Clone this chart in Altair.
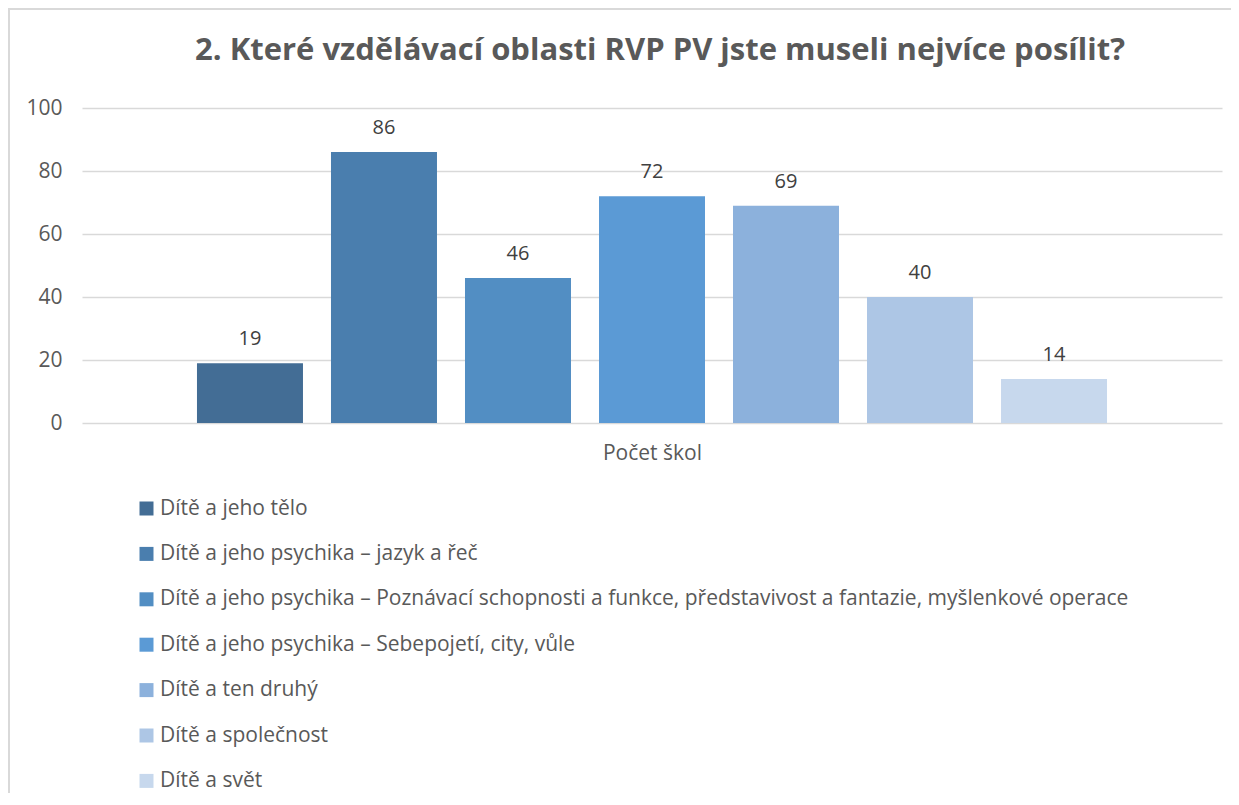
import altair as alt
import pandas as pd

title_text = "2. Které vzdělávací oblasti RVP PV jste museli nejvíce posílit?"
x_title = "Počet škol"
categories = [
    "Dítě a jeho tělo",
    "Dítě a jeho psychika – jazyk a řeč",
    "Dítě a jeho psychika – Poznávací schopnosti a funkce, představivost a fantazie, myšlenkové operace",
    "Dítě a jeho psychika – Sebepojetí, city, vůle",
    "Dítě a ten druhý",
    "Dítě a společnost",
    "Dítě a svět",
]
values = [19, 86, 46, 72, 69, 40, 14]
colors = ["#436D95", "#4A7EAE", "#528EC3", "#5B9AD5", "#8CB1DC", "#ADC6E5", "#C7D8ED"]
y_ticks = [0, 20, 40, 60, 80, 100]

df = pd.DataFrame({"oblast": categories, "pocet": values})

FONT = "Open Sans"
GRID = "#D9D9D9"
TXT = "#595959"

x_enc = alt.X(
    "oblast:N",
    sort=categories,
    scale=alt.Scale(paddingInner=0.209, paddingOuter=0.858),
    axis=alt.Axis(labels=False, ticks=False, domain=False, title=x_title,
                  titleFont=FONT, titleFontSize=21, titleFontWeight="normal",
                  titleColor=TXT, titlePadding=19),
)
y_enc = alt.Y(
    "pocet:Q",
    title=None,
    scale=alt.Scale(domain=[0, 100], nice=False),
    axis=alt.Axis(values=y_ticks, grid=True, gridColor=GRID, gridWidth=1.3,
                  domain=False, ticks=False, labelFont=FONT, labelFontSize=21,
                  labelColor=TXT, labelPadding=20),
)

bars = alt.Chart(df).mark_bar().encode(
    x=x_enc,
    y=y_enc,
    color=alt.Color(
        "oblast:N",
        sort=categories,
        scale=alt.Scale(domain=categories, range=colors),
        legend=alt.Legend(
            title=None, orient="none", legendX=54, legendY=390,
            direction="vertical", symbolType="square", symbolSize=196,
            symbolStrokeWidth=0, labelFont=FONT, labelFontSize=21,
            labelColor=TXT, labelLimit=1200, rowPadding=23.4, labelOffset=3,
        ),
    ),
)

labels = alt.Chart(df).mark_text(
    font=FONT, fontSize=20, color="#404040", baseline="alphabetic", dy=-18
).encode(x=alt.X("oblast:N", sort=categories), y="pocet:Q", text="pocet:Q")

one = alt.Data(values=[{"a": 1}])
border_top = alt.Chart(one).mark_rule(color=GRID, strokeWidth=2).encode(
    x=alt.value(-74), x2=alt.value(1149), y=alt.value(-99)
)
border_left = alt.Chart(one).mark_rule(color=GRID, strokeWidth=2).encode(
    x=alt.value(-73), y=alt.value(-100), y2=alt.value(700)
)

chart = alt.layer(bars, labels, border_top, border_left).properties(
    width=1140,
    height=315,
    autosize=alt.AutoSizeParams(type="none"),
    padding={"left": 74, "top": 100, "right": 9, "bottom": 370},
    title=alt.TitleParams(
        text=title_text, font=FONT, fontSize=31, fontWeight="bold",
        color=TXT, anchor="middle", dx=8, offset=0, baseline="alphabetic", dy=84,
    ),
).configure_view(strokeWidth=0)

chart.save("out.html", embed_options={"renderer": "svg", "actions": False})
